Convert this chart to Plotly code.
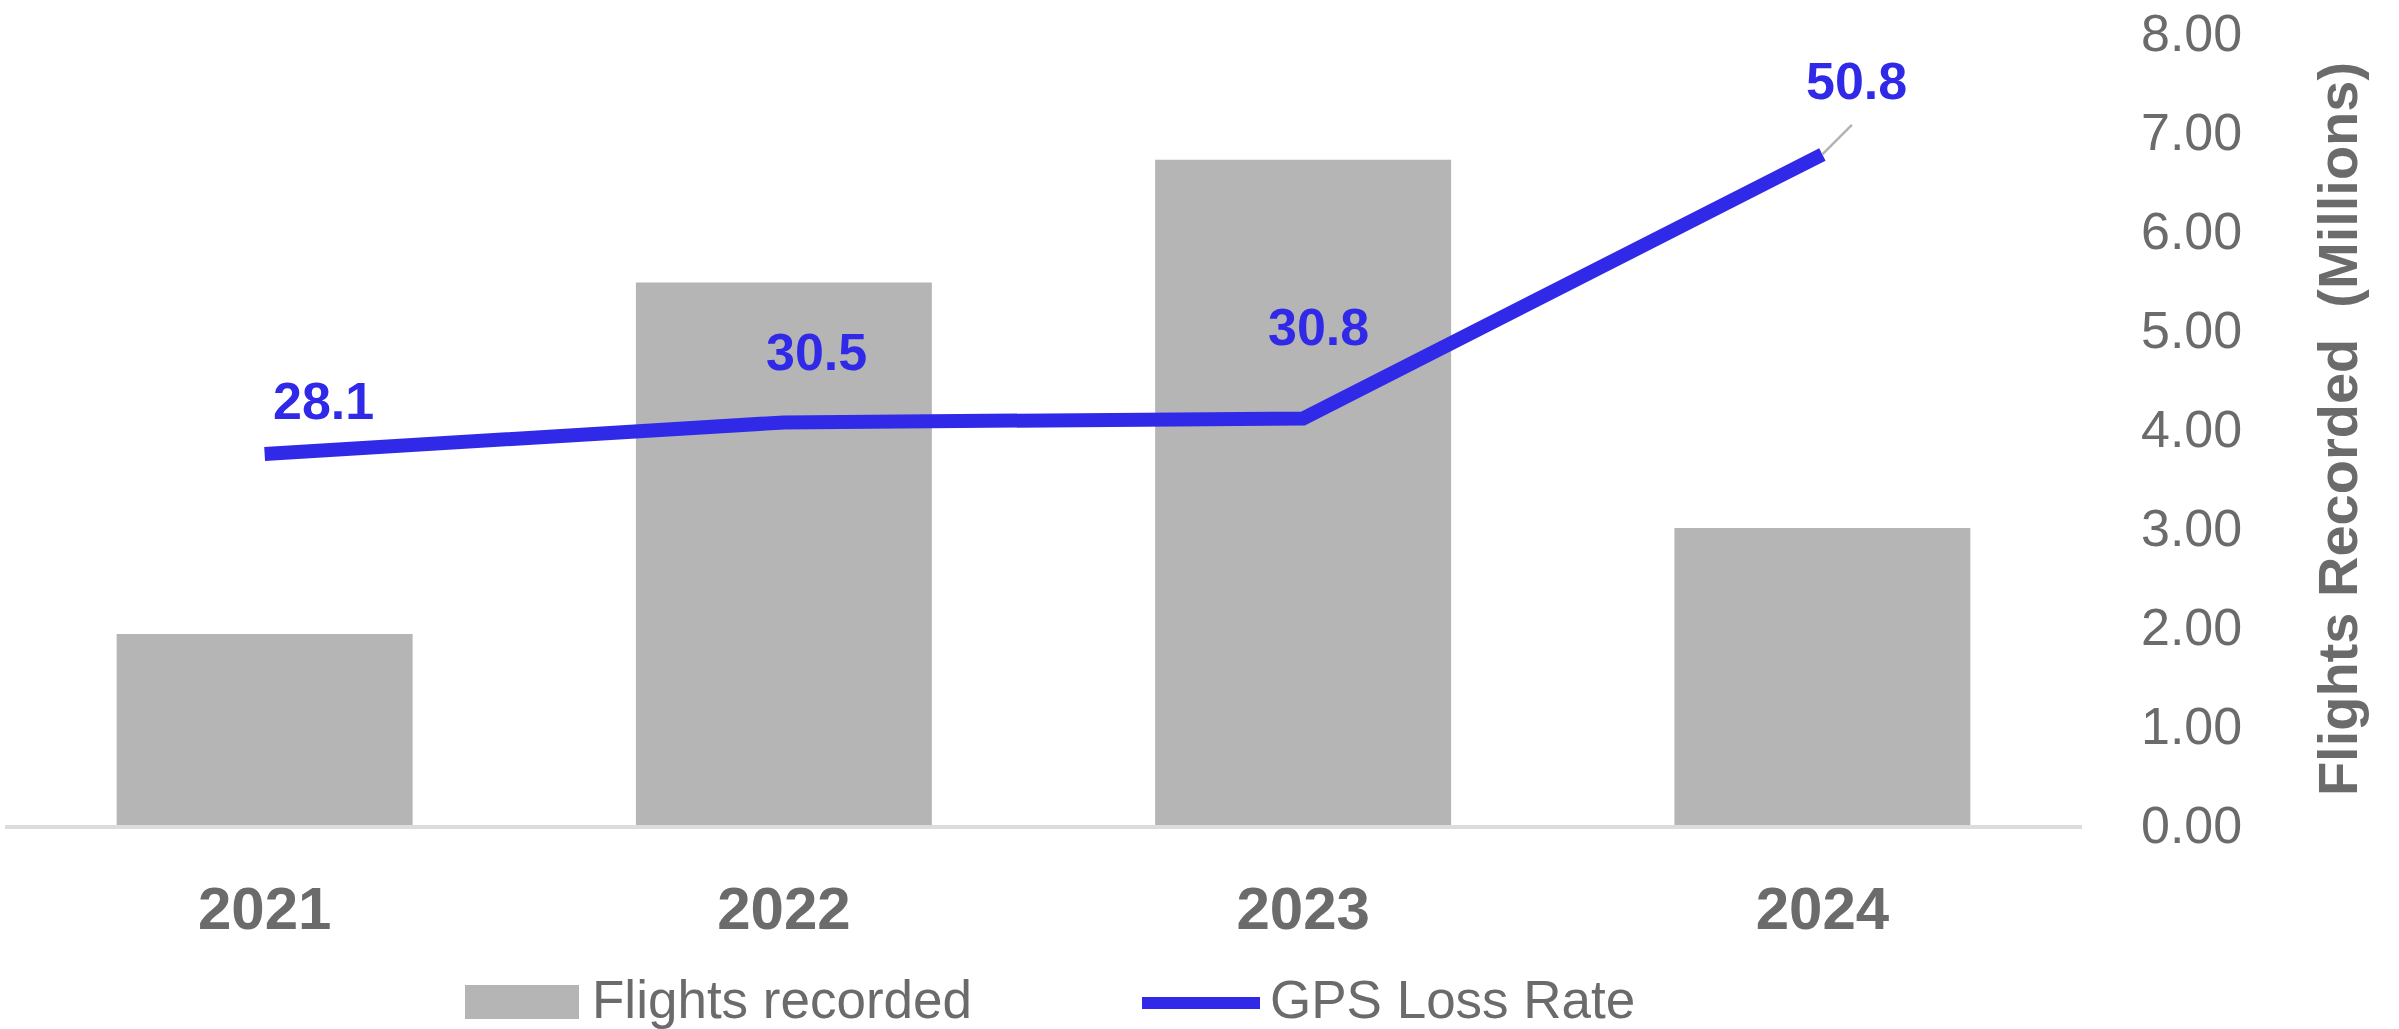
import plotly.graph_objects as go

# ---------------- data ----------------
years = ["2021", "2022", "2023", "2024"]
flights_millions = [1.93, 5.48, 6.72, 3.00]
gps_loss_rate = [28.1, 30.5, 30.8, 50.8]
gps_labels = ["28.1", "30.5", "30.8", "50.8"]
y_ticks = [0, 1, 2, 3, 4, 5, 6, 7, 8]

# ---------------- style ----------------
W, H = 2399, 1029
ML, MR, MT, MB = 5, 317, 33, 204
PW, PH = W - ML - MR, H - MT - MB
FONT = "Liberation Sans, Arial, sans-serif"
GRAY_TXT = "#6b6b6b"
BAR_COL = "#b5b5b5"
LINE_COL = "#302ae8"
label_dx = [59, 33, 15, 34]
label_dy = [-53, -70, -91, -73]


def px_x(p):
    return (p - ML) / PW


def px_y(p):
    return (H - MB - p) / PH


fig = go.Figure()
fig.add_trace(go.Bar(
    x=years, y=flights_millions, name="Flights recorded",
    marker=dict(color=BAR_COL, line=dict(width=0)), width=0.57,
    yaxis="y", showlegend=False,
))
fig.add_trace(go.Scatter(
    x=years, y=gps_loss_rate, name="GPS Loss Rate", mode="lines",
    line=dict(color=LINE_COL, width=14), yaxis="y2", showlegend=False,
))

annotations = []
for i, (v, lab, dx, dy) in enumerate(zip(gps_loss_rate, gps_labels, label_dx, label_dy)):
    annotations.append(dict(
        x=i, y=v, xref="x", yref="y2", text=lab, showarrow=False,
        xshift=dx, yshift=-dy, xanchor="center", yanchor="middle",
        font=dict(family=FONT, size=52, color=LINE_COL, weight="bold"),
    ))
# leader line for the last label
annotations.append(dict(
    x=len(years) - 1, y=gps_loss_rate[-1], xref="x", yref="y2", text="",
    showarrow=True, arrowhead=0, arrowwidth=2.5, arrowcolor="#b3b3b3",
    ax=31, ay=-31, standoff=0,
))

# custom legend
legend_font = dict(family=FONT, size=53, color=GRAY_TXT)
annotations.append(dict(
    x=px_x(590), y=px_y(999), xref="paper", yref="paper", text="Flights recorded",
    showarrow=False, xanchor="left", yanchor="middle", font=legend_font,
))
annotations.append(dict(
    x=px_x(1268), y=px_y(999), xref="paper", yref="paper", text="GPS Loss Rate",
    showarrow=False, xanchor="left", yanchor="middle", font=legend_font,
))
shapes = [
    dict(type="rect", xref="paper", yref="paper",
         x0=px_x(465), x1=px_x(579), y0=px_y(1019), y1=px_y(985),
         fillcolor=BAR_COL, line=dict(width=0)),
    dict(type="line", xref="paper", yref="paper",
         x0=px_x(1142), x1=px_x(1260), y0=px_y(1003), y1=px_y(1003),
         line=dict(color=LINE_COL, width=12)),
]

fig.update_layout(
    width=W, height=H,
    margin=dict(l=ML, r=MR, t=MT, b=MB, pad=0),
    paper_bgcolor="white", plot_bgcolor="white",
    showlegend=False,
    font=dict(family=FONT, color=GRAY_TXT),
    xaxis=dict(
        type="category", range=[-0.5, len(years) - 0.5],
        showgrid=False, zeroline=False,
        showline=True, linecolor="#dcdcdc", linewidth=4,
        ticks="", ticklabelstandoff=28,
        tickfont=dict(family=FONT, size=60, color=GRAY_TXT, weight="bold"),
    ),
    yaxis=dict(
        side="right", range=[0, 8], tickvals=y_ticks, tickformat=".2f",
        showgrid=False, zeroline=False, showline=False, ticks="",
        ticklabelstandoff=58,
        tickfont=dict(family=FONT, size=52, color=GRAY_TXT),
        title=dict(text="Flights Recorded  (Millions)", standoff=76,
                   font=dict(family=FONT, size=56, color=GRAY_TXT, weight="bold")),
    ),
    yaxis2=dict(
        overlaying="y", side="right", range=[0, 60], visible=False,
        showgrid=False, zeroline=False,
    ),
    annotations=annotations,
    shapes=shapes,
    bargap=0.43,
)

fig.write_html(
    "out.html",
    config={"displayModeBar": False},
    post_script="document.body.style.margin='0';document.body.style.overflow='hidden';",
)
